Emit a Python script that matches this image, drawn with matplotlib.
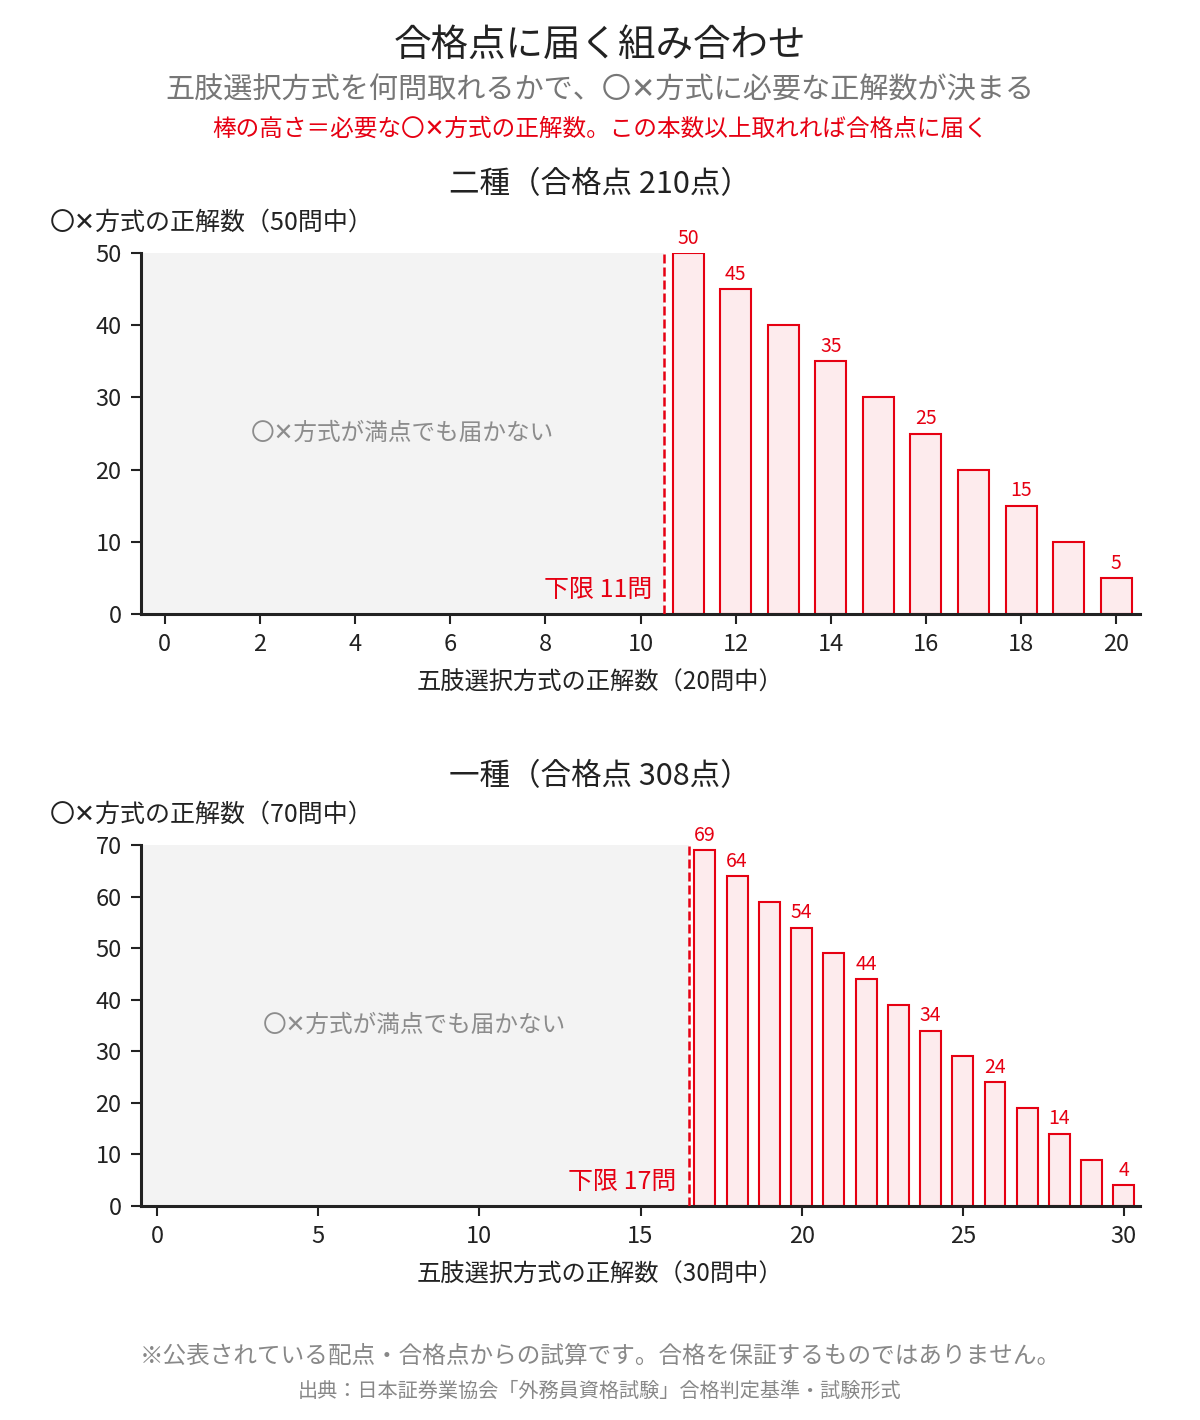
import numpy as np
import matplotlib
matplotlib.use("Agg")
import matplotlib.pyplot as plt

plt.rcParams['font.family'] = ['Noto Sans CJK JP', 'DejaVu Sans']

RED = "#e60012"
PINK = "#fdebed"
GRAY_BG = "#f3f3f3"
DARK = "#222222"
MID = "#777777"

# 二種: 五肢選択 20問, 〇✕ 50問, 合格点 210
x2 = [11, 12, 13, 14, 15, 16, 17, 18, 19, 20]
h2 = [50, 45, 40, 35, 30, 25, 20, 15, 10, 5]
lab2 = [11, 12, 14, 16, 18, 20]

# 一種: 五肢選択 30問, 〇✕ 70問, 合格点 308
x1 = [17, 18, 19, 20, 21, 22, 23, 24, 25, 26, 27, 28, 29, 30]
h1 = [69, 64, 59, 54, 49, 44, 39, 34, 29, 24, 19, 14, 9, 4]
lab1 = [17, 18, 20, 22, 24, 26, 28, 30]

panels = [
    dict(x=x2, h=h2, lab=lab2, n5=20, nox=50, title="二種（合格点 210点）",
         xticks=np.arange(0, 21, 2), yticks=np.arange(0, 51, 10),
         rect=[0.1175, 0.5676, 0.8325, 0.2542]),
    dict(x=x1, h=h1, lab=lab1, n5=30, nox=70, title="一種（合格点 308点）",
         xticks=np.arange(0, 31, 5), yticks=np.arange(0, 71, 10),
         rect=[0.1175, 0.1507, 0.8325, 0.2542]),
]

fig = plt.figure(figsize=(12, 14.2), dpi=100)

fig.text(0.5, 0.968, "合格点に届く組み合わせ", ha="center", va="center",
         fontsize=27, color=DARK)
fig.text(0.5, 0.936, "五肢選択方式を何問取れるかで、〇✕方式に必要な正解数が決まる",
         ha="center", va="center", fontsize=21, color=MID)
fig.text(0.5, 0.909, "棒の高さ＝必要な〇✕方式の正解数。この本数以上取れれば合格点に届く",
         ha="center", va="center", fontsize=17, color=RED)

cx = 0.4595  # figure centre in axes coords
for p in panels:
    ax = fig.add_axes(p["rect"])
    lim = p["x"][0] - 0.5
    ax.set_xlim(-0.5, p["n5"] + 0.5)
    ax.set_ylim(0, p["nox"])
    ax.axvspan(-0.5, lim, color=GRAY_BG, zorder=0, lw=0)
    ax.axvline(lim, color=RED, ls=(0, (3.6, 1.6)), lw=1.8, zorder=3)
    ax.bar(p["x"], p["h"], width=0.65, color=PINK, edgecolor=RED, lw=1.5, zorder=2)
    for xi, hi in zip(p["x"], p["h"]):
        if xi in p["lab"]:
            ax.text(xi, hi + p["nox"] * 0.012, str(hi), ha="center", va="bottom",
                    fontsize=14, color=RED)
    ax.text(lim / 2 - 0.25, p["nox"] / 2, "〇✕方式が満点でも届かない", ha="center",
            va="center", fontsize=17, color="#8c8c8c")
    ax.text(lim - 0.25 * p["n5"] / 20, p["nox"] * 0.03, "下限 %d問" % p["x"][0],
            ha="right", va="bottom", fontsize=18, color=RED)
    ax.set_xticks(p["xticks"])
    ax.set_yticks(p["yticks"])
    ax.tick_params(labelsize=17, colors=DARK, length=7, width=1.5, pad=7)
    for s in ["top", "right"]:
        ax.spines[s].set_visible(False)
    for s in ["left", "bottom"]:
        ax.spines[s].set_linewidth(2.2)
        ax.spines[s].set_color(DARK)
    ax.set_xlabel("五肢選択方式の正解数（%d問中）" % p["n5"], fontsize=17.5, color=DARK)
    ax.xaxis.set_label_coords(cx, -0.19)
    ax.xaxis.label.set_va("center")
    ax.text(-0.091, 1.085, "〇✕方式の正解数（%d問中）" % p["nox"], transform=ax.transAxes,
            ha="left", va="center", fontsize=18, color=DARK)
    ax.text(cx, 1.191, p["title"], transform=ax.transAxes, ha="center", va="center",
            fontsize=22, color=DARK)

fig.text(0.5, 0.045, "※公表されている配点・合格点からの試算です。合格を保証するものではありません。",
         ha="center", va="center", fontsize=17, color="#888888")
fig.text(0.5, 0.020, "出典：日本証券業協会「外務員資格試験」合格判定基準・試験形式",
         ha="center", va="center", fontsize=14.5, color="#888888")

fig.savefig("out.png", dpi=100)
